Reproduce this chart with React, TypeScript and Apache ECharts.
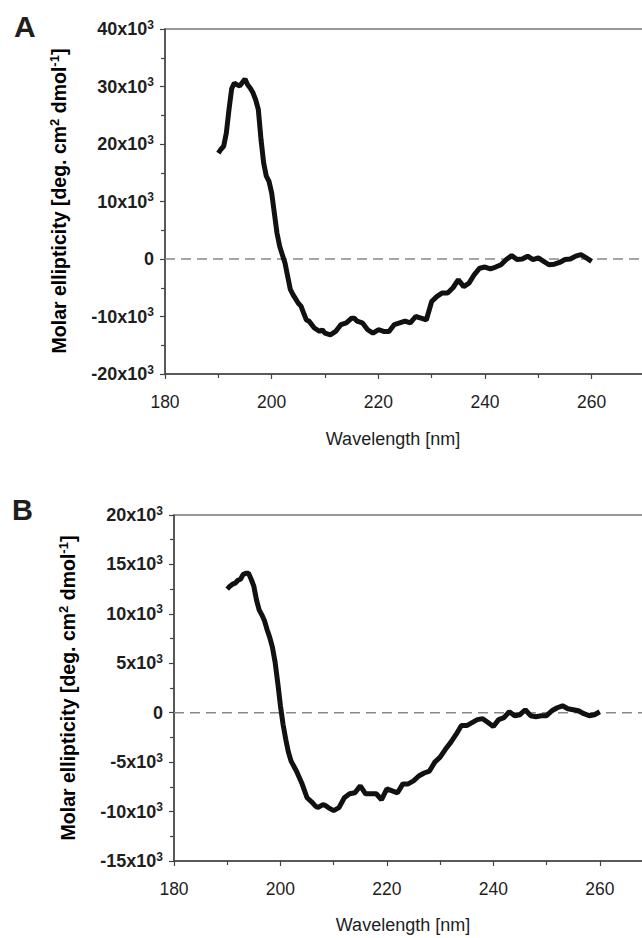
import React, { useEffect, useRef } from "react";
import * as echarts from "echarts";

// Panel A: CD spectrum (molar ellipticity, x10^3 deg cm2 dmol-1)
const wavelengthsA = [
  190, 190.5, 191, 191.5, 192, 192.5, 193, 193.5, 194, 194.5, 195, 195.5, 196, 196.5, 197, 197.5,
  198, 198.5, 199, 199.5, 200, 200.5, 201, 201.5, 202, 202.5, 203, 203.5, 204, 205, 205.5, 206,
  206.5, 207, 208, 209, 209.5, 210, 211, 212, 213, 214, 215, 215.5, 216, 217, 218, 219, 220, 221,
  222, 223, 224, 225, 226, 227, 228, 229, 230, 231, 232, 233, 234, 235, 236, 237, 238, 239, 240,
  241, 242, 243, 244, 245, 246, 247, 248, 249, 250, 251, 252, 253, 254, 255, 256, 257, 258, 259, 260,
];
const ellipticityA = [
  18.4, 19.1, 19.6, 21.9, 26.0, 29.6, 30.6, 30.3, 30.1, 30.7, 31.3, 30.3, 29.7, 28.9, 27.7, 26.0,
  20.8, 16.7, 14.4, 13.5, 11.5, 8.0, 4.5, 2.2, 0.75, -0.7, -3.0, -5.3, -6.2, -7.7, -8.2, -9.4,
  -10.6, -10.8, -12.0, -12.6, -12.3, -12.9, -13.2, -12.6, -11.4, -11.1, -10.3, -10.3, -10.8, -11.1, -12.3, -12.9, -12.3, -12.6,
  -12.6, -11.4, -11.1, -10.8, -11.1, -10.0, -10.3, -10.6, -7.4, -6.5, -5.9, -5.9, -5.0, -3.6, -4.8, -4.2, -2.7, -1.6, -1.4,
  -1.7, -1.4, -1.0, -0.1, 0.6, -0.1, 0.0, 0.5, -0.1, 0.2, -0.4, -1.0, -0.9, -0.6, -0.1, 0.0, 0.5, 0.75, 0.2, -0.4,
];

// Panel B
const wavelengthsB = [
  190, 190.5, 191, 191.5, 192, 192.5, 193, 193.5, 194, 194.5, 195, 195.5, 196, 196.5, 197, 197.5,
  198, 198.5, 199, 199.5, 200, 200.5, 201, 201.5, 202, 203, 204, 205, 206, 206.5, 207, 208, 208.5,
  209, 210, 211, 212, 213, 214, 215, 216, 217, 218, 219, 220, 221, 222, 223, 224, 225, 226, 227,
  228, 229, 230, 231, 232, 233, 234, 235, 236, 237, 238, 239, 240, 241, 242, 243, 244, 245, 246,
  247, 248, 249, 250, 251, 252, 253, 254, 255, 256, 257, 258, 259, 260,
];
const ellipticityB = [
  12.5, 12.8, 13.0, 13.1, 13.4, 13.5, 14.0, 14.1, 14.1, 13.5, 12.8, 11.4, 10.4, 9.9, 9.3, 8.4,
  7.6, 6.6, 5.1, 3.0, 0.7, -1.2, -2.7, -4.0, -4.9, -5.9, -7.1, -8.6, -9.1, -9.4, -9.6, -9.3, -9.4,
  -9.6, -9.9, -9.6, -8.6, -8.2, -8.1, -7.4, -8.2, -8.2, -8.2, -8.8, -7.7, -7.9, -8.1, -7.2, -7.2, -6.9, -6.4, -6.1,
  -5.9, -5.0, -4.5, -3.7, -3.0, -2.2, -1.3, -1.3, -1.0, -0.7, -0.6, -1.0, -1.4, -0.7, -0.5, 0.1, -0.3, -0.2, 0.3,
  -0.3, -0.4, -0.3, -0.3, 0.2, 0.5, 0.7, 0.4, 0.3, 0.2, -0.1, -0.3, -0.2, 0.1,
];

const xRange = [180, 270];
const yRangeA = [-20000, 40000];
const yRangeB = [-15000, 20000];
const panelLabels = ["A", "B"];
const xTitle = "Wavelength [nm]";

const FONT = "'Liberation Sans', Arial, Helvetica, sans-serif";
const INK = "#1e1e1e";
const AXIS = "#444";

const richY = {
  a: { fontSize: 18, fontWeight: "bold", color: INK, fontFamily: FONT, lineHeight: 21 },
  s: { fontSize: 12, fontWeight: "bold", color: INK, fontFamily: FONT, lineHeight: 12, verticalAlign: "top" },
};
const richTitle = {
  t: { fontSize: 19.5, fontWeight: "bold", color: INK, fontFamily: FONT, lineHeight: 23 },
  s: { fontSize: 13, fontWeight: "bold", color: INK, fontFamily: FONT, lineHeight: 13, verticalAlign: "top" },
};

const yFmt = (v: number) => (v === 0 ? "{a|0}" : `{a|${v / 1000}x10}{s|3}`);

function xAxis(gi: number) {
  return {
    type: "value",
    gridIndex: gi,
    min: xRange[0],
    max: xRange[1],
    interval: 20,
    axisLine: { show: true, onZero: false, lineStyle: { color: AXIS, width: 1.5 } },
    axisTick: { show: true, length: 5, lineStyle: { color: AXIS, width: 1.2 } },
    minorTick: { show: true, splitNumber: 2, length: 4, lineStyle: { color: AXIS, width: 1.2 } },
    splitLine: { show: false },
    axisLabel: { fontSize: 17.5, color: INK, fontFamily: FONT, margin: 19, showMaxLabel: false },
  };
}

function yAxis(gi: number, range: number[], interval: number) {
  return {
    type: "value",
    gridIndex: gi,
    min: range[0],
    max: range[1],
    interval,
    axisLine: { show: true, onZero: false, lineStyle: { color: AXIS, width: 1.5 } },
    axisTick: { show: true, length: 5, lineStyle: { color: AXIS, width: 1.2 } },
    minorTick: { show: true, splitNumber: 2, length: 4, lineStyle: { color: AXIS, width: 1.2 } },
    splitLine: { show: false },
    axisLabel: { margin: 11, formatter: yFmt, rich: richY },
  };
}

function yTitle(x: number, y: number) {
  return {
    type: "text",
    x,
    y,
    rotation: Math.PI / 2,
    style: {
      text: "{t|Molar ellipticity [deg. cm}{s|2}{t| dmol}{s|-1}{t|]}",
      rich: richTitle,
      align: "center",
      verticalAlign: "middle",
    },
  };
}

export default function App() {
  const ref = useRef<HTMLDivElement>(null);
  useEffect(() => {
    const chart = echarts.init(ref.current!, null, { renderer: "svg" });
    const curveStyle = { color: "#111", width: 5 };
    const zeroStyle = { color: "#888", width: 1.5, type: [10, 6] };
    const option = {
      animation: false,
      backgroundColor: "#fff",
      grid: [
        { left: 165, top: 29, width: 480, height: 345, show: true, borderColor: "#777", borderWidth: 1.5, outerBoundsMode: "none" },
        { left: 174, top: 515, width: 479, height: 346, show: true, borderColor: "#777", borderWidth: 1.5, outerBoundsMode: "none" },
      ],
      xAxis: [xAxis(0), xAxis(1)],
      yAxis: [yAxis(0, yRangeA, 10000), yAxis(1, yRangeB, 5000)],
      series: [
        {
          type: "line", xAxisIndex: 0, yAxisIndex: 0, z: 1, showSymbol: false, silent: true,
          data: [[xRange[0], 0], [xRange[1], 0]], lineStyle: zeroStyle,
        },
        {
          type: "line", xAxisIndex: 1, yAxisIndex: 1, z: 1, showSymbol: false, silent: true,
          data: [[xRange[0], 0], [xRange[1], 0]], lineStyle: zeroStyle,
        },
        {
          type: "line", xAxisIndex: 0, yAxisIndex: 0, z: 3, showSymbol: false,
          data: wavelengthsA.map((w, i) => [w, ellipticityA[i] * 1000]), lineStyle: curveStyle,
        },
        {
          type: "line", xAxisIndex: 1, yAxisIndex: 1, z: 3, showSymbol: false,
          data: wavelengthsB.map((w, i) => [w, ellipticityB[i] * 1000]), lineStyle: curveStyle,
        },
      ],
      graphic: [
        { type: "text", x: 14, y: 11, style: { text: panelLabels[0], fontSize: 30, fontWeight: "bold", fill: INK, fontFamily: FONT } },
        { type: "text", x: 12, y: 495, style: { text: panelLabels[1], fontSize: 29, fontWeight: "bold", fill: INK, fontFamily: FONT } },
        { type: "text", x: 393, y: 439, style: { text: xTitle, fontSize: 18, fill: INK, fontFamily: FONT, align: "center", verticalAlign: "middle" } },
        { type: "text", x: 403, y: 925, style: { text: xTitle, fontSize: 18, fill: INK, fontFamily: FONT, align: "center", verticalAlign: "middle" } },
        yTitle(59, 201),
        yTitle(68, 688),
      ],
    };
    chart.setOption(option as any);
    return () => chart.dispose();
  }, []);
  return (
    <div style={{ position: "fixed", left: 0, top: 0, width: 642, height: 938, overflow: "hidden", background: "#fff" }}>
      <div ref={ref} style={{ width: 680, height: 938 }} />
    </div>
  );
}
